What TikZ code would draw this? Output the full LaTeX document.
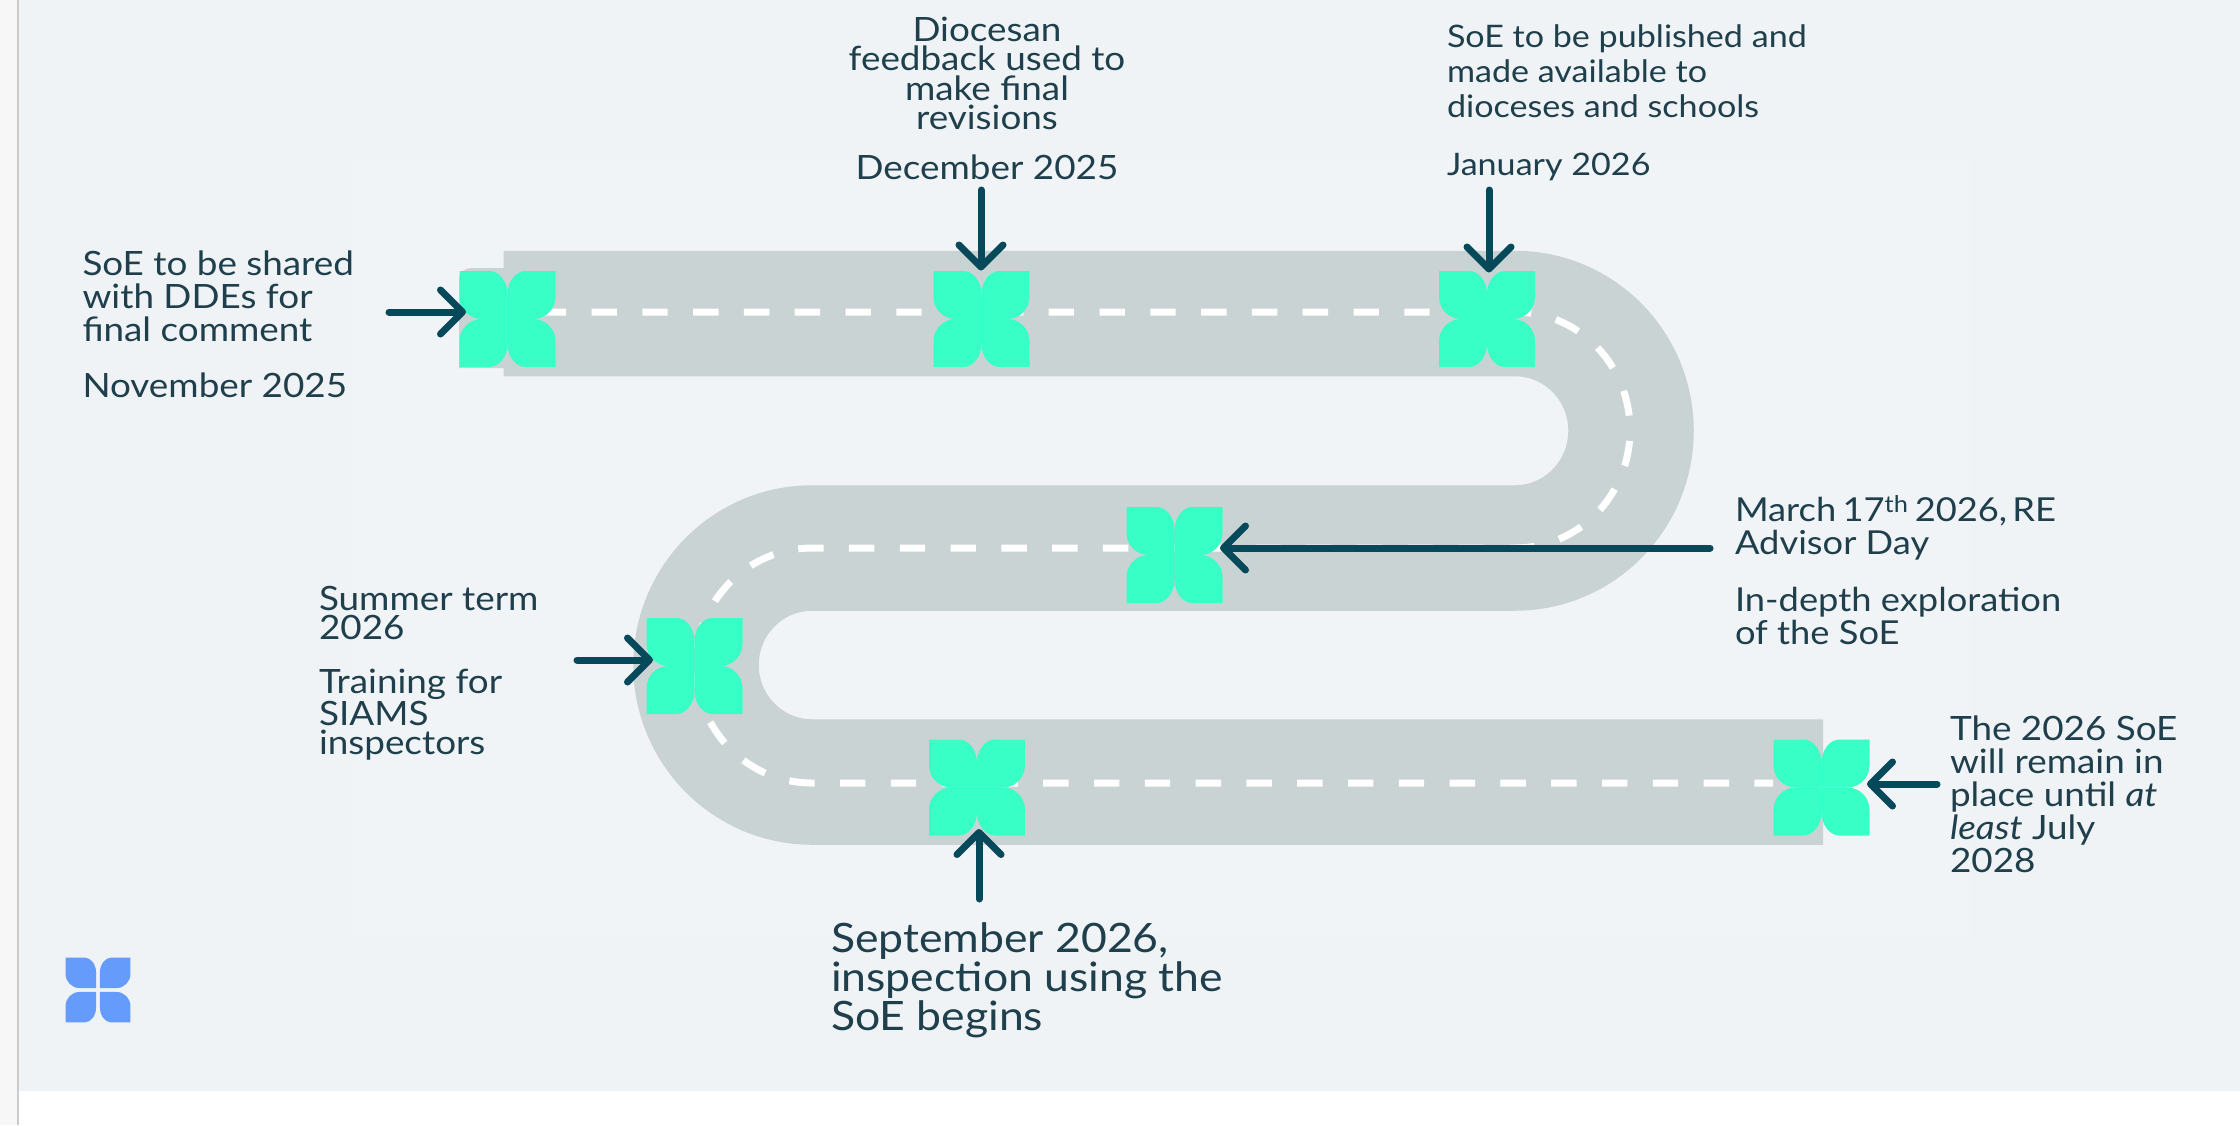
\documentclass[tikz,border=0pt]{standalone}
\usepackage{fontspec}
\setmainfont[FakeStretch=1.1]{Lato}
\usetikzlibrary{arrows.meta}
\definecolor{panel}{HTML}{EFF3F5}
\definecolor{panelin}{HTML}{F1F4F7}
\definecolor{roadc}{HTML}{C9D3D3}
\definecolor{mint}{HTML}{38FFC5}
\definecolor{bluey}{HTML}{659BFB}
\definecolor{inkc}{HTML}{06495A}
\definecolor{textc}{HTML}{1E3F4B}
\newcommand{\myleaf}[3]{% sx, sy, gap
  \fill[shift={(-#1*#3,-#2*#3)},xscale=#1,yscale=#2] (-48,-48) -- (-18,-48) .. controls (-8,-48) and (0,-37) .. (0,-25) -- (0,0) -- (-26,0) .. controls (-38,0) and (-48,-10) .. (-48,-22) -- cycle;}
\newcommand{\myflower}[6]{% name,x,y,scale,colour,gap
  \node[spot] (#1) at (#2,#3) {};
  \begin{scope}[shift={(#2,#3)},scale=#4,fill=#5]
    \myleaf{1}{1}{#6}\myleaf{-1}{1}{#6}\myleaf{1}{-1}{#6}\myleaf{-1}{-1}{#6}
  \end{scope}}
\tikzset{
  spot/.style={minimum size=97pt,inner sep=0pt,outer sep=0pt},
  roadpath/.style={line width=125.5pt,draw=roadc},
  lane/.style={line width=7pt,draw=white,dash pattern=on 25.4pt off 25.4pt},
  arr/.style={line width=7pt,draw=inkc,line cap=round,-{Straight Barb[length=22pt,width=44pt,line width=7pt,round]}},
  lab/.style={inner sep=0pt,outer sep=0pt,text=textc,font=\fontsize{33.5}{33}\selectfont,align=left,anchor=north west},
  labc/.style={lab,align=center,anchor=north}
}
\begin{document}
\begin{tikzpicture}[x=1pt,y=-1pt]
\useasboundingbox (0,0) rectangle (2240,1125);
\fill[white] (0,0) rectangle (2240,1125);
\fill[black!3] (0,0) rectangle (18,1125);
\fill[black!20] (17,0) rectangle (19,1125);
\fill[panel] (19,0) rectangle (2240,1091);
\fill[panelin] (353,160) rectangle (1971,935);
% road
\draw[roadpath] (503.5,313.5) -- (1515,313.5) .. controls (1579.07,313.5) and (1631,365.99) .. (1631,430.75) .. controls (1631,495.51) and (1579.07,548) .. (1515,548) -- (812,548) .. controls (747.93,548) and (696,600.38) .. (696,665) .. controls (696,729.62) and (747.93,782) .. (812,782) -- (1823,782);
\fill[roadc] (459,368) -- (459,280) .. controls (459,272) and (465,268) .. (472,268) -- (510,268) -- (510,368) -- cycle;
\draw[lane] (540.7,312) -- (1515,312) .. controls (1579.07,312) and (1630,364.83) .. (1630,430) .. controls (1630,495.17) and (1579.07,548) .. (1515,548) -- (812,548) .. controls (747.93,548) and (696,600.6) .. (696,665.5) .. controls (696,730.4) and (747.93,783) .. (812,783) -- (1773,783);
% flowers
\myflower{f1}{507.5}{319}{1}{mint}{0}
\myflower{f2}{981.5}{319}{1}{mint}{0}
\myflower{f3}{1487}{319}{1}{mint}{0}
\myflower{f4}{1174.5}{555}{1}{mint}{0}
\myflower{f5}{694.5}{666}{1}{mint}{0}
\myflower{f6}{977}{787.5}{1}{mint}{0}
\myflower{f7}{1821.5}{787.5}{1}{mint}{0}
\myflower{logo}{98}{990}{0.635}{bluey}{3.1}
% arrow tails
\coordinate (a1) at (389,312);
\coordinate (a2) at (981,190);
\coordinate (a3) at (1489,190);
\coordinate (a4) at (1710,548);
\coordinate (a5) at (577,660);
\coordinate (a6) at (979,899);
\coordinate (a7) at (1937,784);
\draw[arr,shorten >=-7pt] (a1) -- (f1.west |- a1);
\draw[arr,shorten >=0pt] (a2) -- (a2 |- f2.north);
\draw[arr,shorten >=-2pt] (a3) -- (a3 |- f3.north);
\draw[arr,shorten >=-3pt] (a4) -- (f4.east |- a4);
\draw[arr,shorten >=-7pt] (a5) -- (f5.west |- a5);
\draw[arr,shorten >=-7pt] (a6) -- (a6 |- f6.south);
\draw[arr,shorten >=-3pt] (a7) -- (f7.east |- a7);
% labels
\node[lab] (t1) at (82.5,251) {SoE to be shared\\with DDEs for\\final comment\\[23pt]November 2025};
\node[labc,font=\fontsize{33.5}{29.5}\selectfont] (t2) at (987,17) {Diocesan\\feedback used to\\make final\\revisions\\[20pt]December 2025};
\node[lab,font=\fontsize{31}{35}\selectfont] (t3) at (1447,24.5) {SoE to be published and\\made available to\\dioceses and schools\\[23pt]January 2026};
\node[lab,font=\fontsize{33}{33}\selectfont] (t4) at (1735,495) {March\kern-3pt{} 17\textsuperscript{th}\kern-3pt{} 2026,\kern-4pt{} RE\\Advisor Day\\[24pt]In-depth exploration\\of the SoE};
\node[lab,font=\fontsize{33.5}{29}\selectfont] (t5) at (319,586.5) {Summer term\\2026\\[25pt]Training for\\SIAMS\\inspectors};
\node[lab,font=\fontsize{40.5}{39}\selectfont] (t6) at (831,923) {September 2026,\\inspection using the\\SoE begins};
\node[lab] (t7) at (1950,716) {The 2026 SoE\\will remain in\\place until \textit{at}\\\textit{least} July\\2028};
\end{tikzpicture}
\end{document}
